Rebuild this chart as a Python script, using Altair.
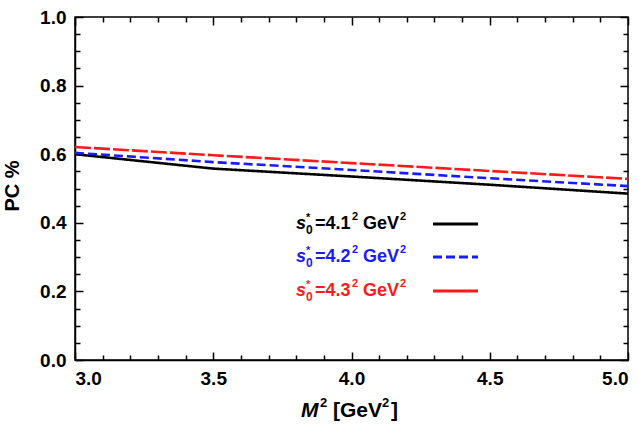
import altair as alt
import pandas as pd

# ---- data ----
m2 = [3.0, 3.5, 4.0, 4.5, 5.0]
pc_41 = [0.600, 0.558, 0.535, 0.511, 0.485]
pc_42 = [0.604, 0.577, 0.554, 0.530, 0.507]
pc_43 = [0.621, 0.597, 0.574, 0.551, 0.528]
labels = ["4.1", "4.2", "4.3"]
colors = ["#000000", "#1a1aff", "#ff1a1a"]
dashes = [[1, 0], [9, 4], [16, 3]]
x_ticks = [3.0, 3.5, 4.0, 4.5, 5.0]
y_ticks = [0.0, 0.2, 0.4, 0.6, 0.8, 1.0]
x_minor = [3.1, 3.2, 3.3, 3.4, 3.6, 3.7, 3.8, 3.9, 4.1, 4.2, 4.3, 4.4, 4.6, 4.7, 4.8, 4.9]
y_minor = [0.05, 0.1, 0.15, 0.25, 0.3, 0.35, 0.45, 0.5, 0.55, 0.65, 0.7, 0.75, 0.85, 0.9, 0.95]

W, H = 553, 343
FONT = "Liberation Sans"
X0, X1, Y0, Y1 = 3.0, 5.0, 0.0, 1.0

xs = alt.Scale(domain=[X0, X1], nice=False, zero=False)
ys = alt.Scale(domain=[Y0, Y1], nice=False)

df = pd.concat([
    pd.DataFrame({"m2": m2, "pc": pc_41, "s": labels[0]}),
    pd.DataFrame({"m2": m2, "pc": pc_42, "s": labels[1]}),
    pd.DataFrame({"m2": m2, "pc": pc_43, "s": labels[2]}),
])

label_axis = dict(title=None, tickSize=0, labelFontSize=19, labelFontWeight="bold", labelFont=FONT,
                  labelColor="black", labelPadding=9, domainColor="black", domainWidth=1.5, grid=False,
                  format=".1f")


def tick_axis(vals, orient, L):
    # inward ticks: axis moved inside the frame by L, ticks of length L pointing back to the edge
    return alt.Axis(values=vals, orient=orient, offset=-L, tickSize=L, labels=False, domain=False,
                    grid=False, title=None, tickColor="black", tickWidth=1.5)


# one x axis and one y axis per layer
x_axes = [
    alt.Axis(values=x_ticks, orient="bottom", **label_axis),
    tick_axis(x_ticks, "bottom", 8),
    tick_axis(x_minor, "bottom", 5),
    tick_axis(x_ticks, "top", 8),
    tick_axis(x_minor, "top", 5),
]
y_axes = [
    alt.Axis(values=y_ticks, orient="left", **label_axis),
    tick_axis(y_ticks, "left", 8),
    tick_axis(y_minor, "left", 5),
    tick_axis(y_ticks, "right", 8),
    tick_axis(y_minor, "right", 5),
]

layers = []
for i, (lab, col, dsh) in enumerate(zip(labels, colors, dashes)):
    layers.append(
        alt.Chart(df[df.s == lab]).mark_line(color=col, strokeWidth=2.6, strokeDash=dsh, clip=True).encode(
            x=alt.X("m2:Q", scale=xs, axis=x_axes[i]),
            y=alt.Y("pc:Q", scale=ys, axis=y_axes[i]),
        )
    )
# invisible carriers for the remaining tick axes
for i in (3, 4):
    layers.append(
        alt.Chart(df[df.s == labels[0]]).mark_line(strokeOpacity=0, clip=True).encode(
            x=alt.X("m2:Q", scale=xs, axis=x_axes[i]),
            y=alt.Y("pc:Q", scale=ys, axis=y_axes[i]),
        )
    )

one = pd.DataFrame({"a": [0]})


def seg(xa, xb, ya, yb, col="#000000", w=3, dash=None):
    kw = dict(color=col, strokeWidth=w)
    if dash:
        kw["strokeDash"] = dash
    return alt.Chart(one).mark_rule(**kw).encode(
        x=alt.value(xa), x2=alt.value(xb), y=alt.value(ya), y2=alt.value(yb))


def txt(s, x, y, size=16, color="black", style="normal", align="left", angle=0, baseline="middle"):
    kw = dict(font=FONT, fontSize=size, fontWeight="bold", color=color, fontStyle=style,
              align=align, baseline=baseline)
    if angle:
        kw["angle"] = angle
    return alt.Chart(pd.DataFrame({"t": [s]})).mark_text(**kw).encode(
        x=alt.value(x), y=alt.value(y), text="t:N")


# legend
rows = [207, 240, 274]
for lab, col, dsh, ry in zip(labels, colors, dashes, rows):
    x0 = 221
    layers.append(txt("s", x0, ry, size=18, color=col, style="italic"))
    layers.append(txt("*", x0 + 10, ry - 6, size=11, color=col))
    layers.append(txt("0", x0 + 10, ry + 6, size=12, color=col))
    layers.append(txt("=" + lab, x0 + 19, ry, size=18, color=col))
    layers.append(txt("2", x0 + 56, ry - 7, size=11, color=col))
    layers.append(txt("GeV", x0 + 67, ry, size=18, color=col))
    layers.append(txt("2", x0 + 104, ry - 7, size=11, color=col))
    legdash = None if lab != "4.2" else [9, 4]
    layers.append(seg(358, 403, ry, ry, col=col, w=3, dash=legdash))

# axis titles
ty = 394
layers.append(txt("M", 226, ty, size=21, style="italic"))
layers.append(txt("2", 245, ty - 8, size=13))
layers.append(txt("[GeV", 258, ty, size=21))
layers.append(txt("2", 307, ty - 8, size=13))
layers.append(txt("]", 316, ty, size=21))
layers.append(txt("PC %", -62, 169, size=20, align="center", angle=270))

chart = alt.layer(*layers).resolve_axis(x="independent", y="independent").properties(
    width=W, height=H,
    background="white",
    autosize=alt.AutoSizeParams(type="none"),
    padding={"left": 75, "top": 17, "right": 15, "bottom": 69},
).configure_view(stroke="black", strokeWidth=1.5)

chart.save("out.html", embed_options={"renderer": "svg", "actions": False})
